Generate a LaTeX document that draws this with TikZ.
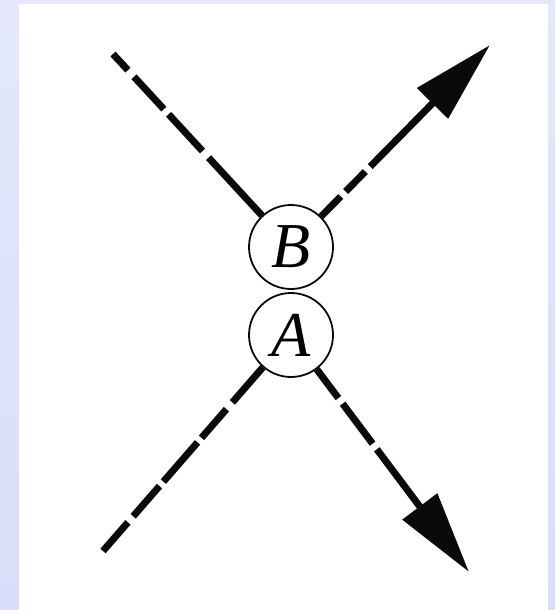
\documentclass[tikz,border=0pt]{standalone}
\usepackage{fontspec}
\setmainfont{Liberation Serif}
\usetikzlibrary{arrows.meta}
\definecolor{bgtop}{HTML}{E4E8FA}
\definecolor{bgbot}{HTML}{D9DDF9}
\definecolor{ink}{HTML}{0A0A0A}
\begin{document}
\begin{tikzpicture}[x=1pt,y=-1pt,
  particle/.style={circle,draw=ink,line width=1.8pt,minimum size=84pt,inner sep=0pt,
    font=\fontsize{64}{64}\selectfont\itshape},
  leg/.style={draw=ink,line width=7pt},
  bigtip/.style={-{Triangle[length=82pt,width=42pt]}}]
\useasboundingbox (0,0) rectangle (555,610);
\shade[top color=bgtop,bottom color=bgbot] (0,0) rectangle (555,610);
\fill[white] (19,4) rectangle (548,610);
\node[particle] (B) at (291,247) {B};
\node[particle] (A) at (291,335) {A};
\coordinate (tl) at (113,54);
\coordinate (tr) at (490,45);
\coordinate (bl) at (103,551);
\coordinate (br) at (469,572);
\draw[leg,dash pattern={on 22pt off 9pt on 44pt off 7pt on 50pt off 9pt on 200pt}] (tl) -- (B);
\draw[leg,bigtip,dash pattern={on 28pt off 7pt on 28pt off 7pt on 300pt}] (B) -- (tr);
\draw[leg,dash pattern={on 38pt off 8pt on 40pt off 6pt on 52pt off 6pt on 38pt off 9pt on 200pt}] (bl) -- (A);
\draw[leg,bigtip,dash pattern={on 36pt off 7pt on 50pt off 7pt on 300pt}] (A) -- (br);
\end{tikzpicture}
\end{document}
